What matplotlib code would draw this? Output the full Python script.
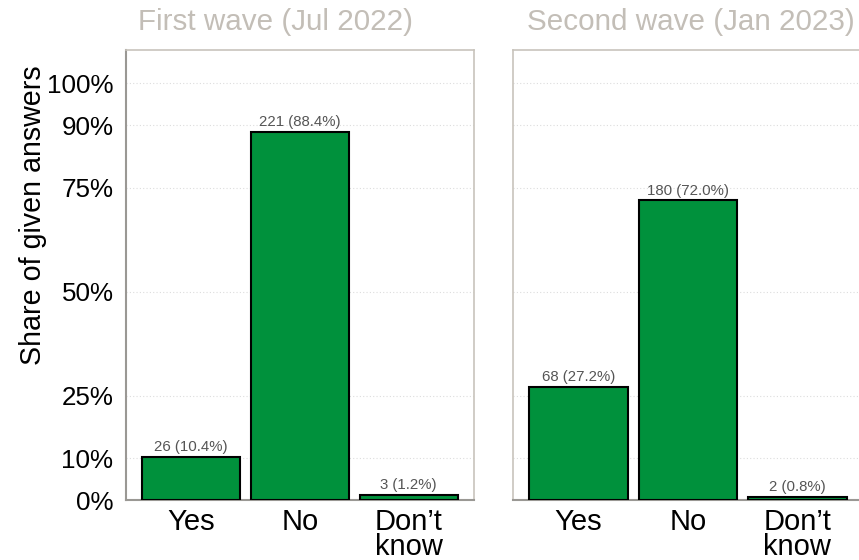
import matplotlib
matplotlib.use("Agg")
import matplotlib.pyplot as plt

plt.rcParams['font.family'] = ['Liberation Sans', 'DejaVu Sans']

categories = ["Yes", "No", "Don\u2019t\nknow"]
wave_titles = ["First wave (Jul 2022)", "Second wave (Jan 2023)"]
counts_wave1 = [26, 221, 3]
counts_wave2 = [68, 180, 2]
total = 250
yticks = [0, 10, 25, 50, 75, 90, 100]
ytick_labels = ["0%", "10%", "25%", "50%", "75%", "90%", "100%"]

bar_color = "#00913c"
title_color = "#c3beb7"
light_spine = "#c8c4bc"
dark_spine = "#9a9894"

fig = plt.figure(figsize=(8.59, 5.60), dpi=100)
W, H = 859, 560
ax1 = fig.add_axes([126 / W, 60 / H, 348 / W, 450 / H])
ax2 = fig.add_axes([513 / W, 60 / H, 350 / W, 450 / H])

for ax, counts, title, tx in [(ax1, counts_wave1, wave_titles[0], 275 / W),
                              (ax2, counts_wave2, wave_titles[1], 691 / W)]:
    shares = [c / total * 100 for c in counts]
    x = list(range(len(categories)))
    ax.bar(x, shares, width=0.9, color=bar_color, edgecolor="black", linewidth=1.5, zorder=3)
    for xi, c, s in zip(x, counts, shares):
        ax.text(xi, s + 0.6, f"{c} ({s:.1f}%)", ha="center", va="bottom",
                fontsize=10.8, color="#555555", zorder=4)
    ax.set_xlim(-0.6, 2.6)
    ax.set_ylim(0, 108)
    ax.set_yticks(yticks)
    ax.yaxis.grid(True, linestyle=(0, (1, 2)), color="#dddddd", linewidth=0.8, zorder=0)
    ax.set_axisbelow(True)
    ax.set_xticks(x)
    ax.set_xticklabels(categories, fontsize=21, linespacing=0.85)
    ax.tick_params(axis="y", length=0, pad=9)
    ax.tick_params(axis="x", length=0, pad=6)
    for sp in ["top", "right"]:
        ax.spines[sp].set_color(light_spine)
        ax.spines[sp].set_linewidth(1.2)
    ax.spines["bottom"].set_color(dark_spine)
    ax.spines["bottom"].set_linewidth(1.5)
    fig.text(tx, 1 - 22 / H, title, ha="center", va="center", fontsize=21.3, color=title_color)

ax1.set_yticklabels(ytick_labels, fontsize=18.7)
ax1.spines["left"].set_color(dark_spine)
ax1.spines["left"].set_linewidth(1.5)
ax2.set_yticklabels([])
ax2.spines["left"].set_color(light_spine)
ax2.spines["left"].set_linewidth(1.2)

fig.text(33 / W, 1 - 215 / H, "Share of given answers", rotation=90,
         ha="center", va="center", fontsize=20.6, color="black")

fig.savefig("out.png", dpi=100)
